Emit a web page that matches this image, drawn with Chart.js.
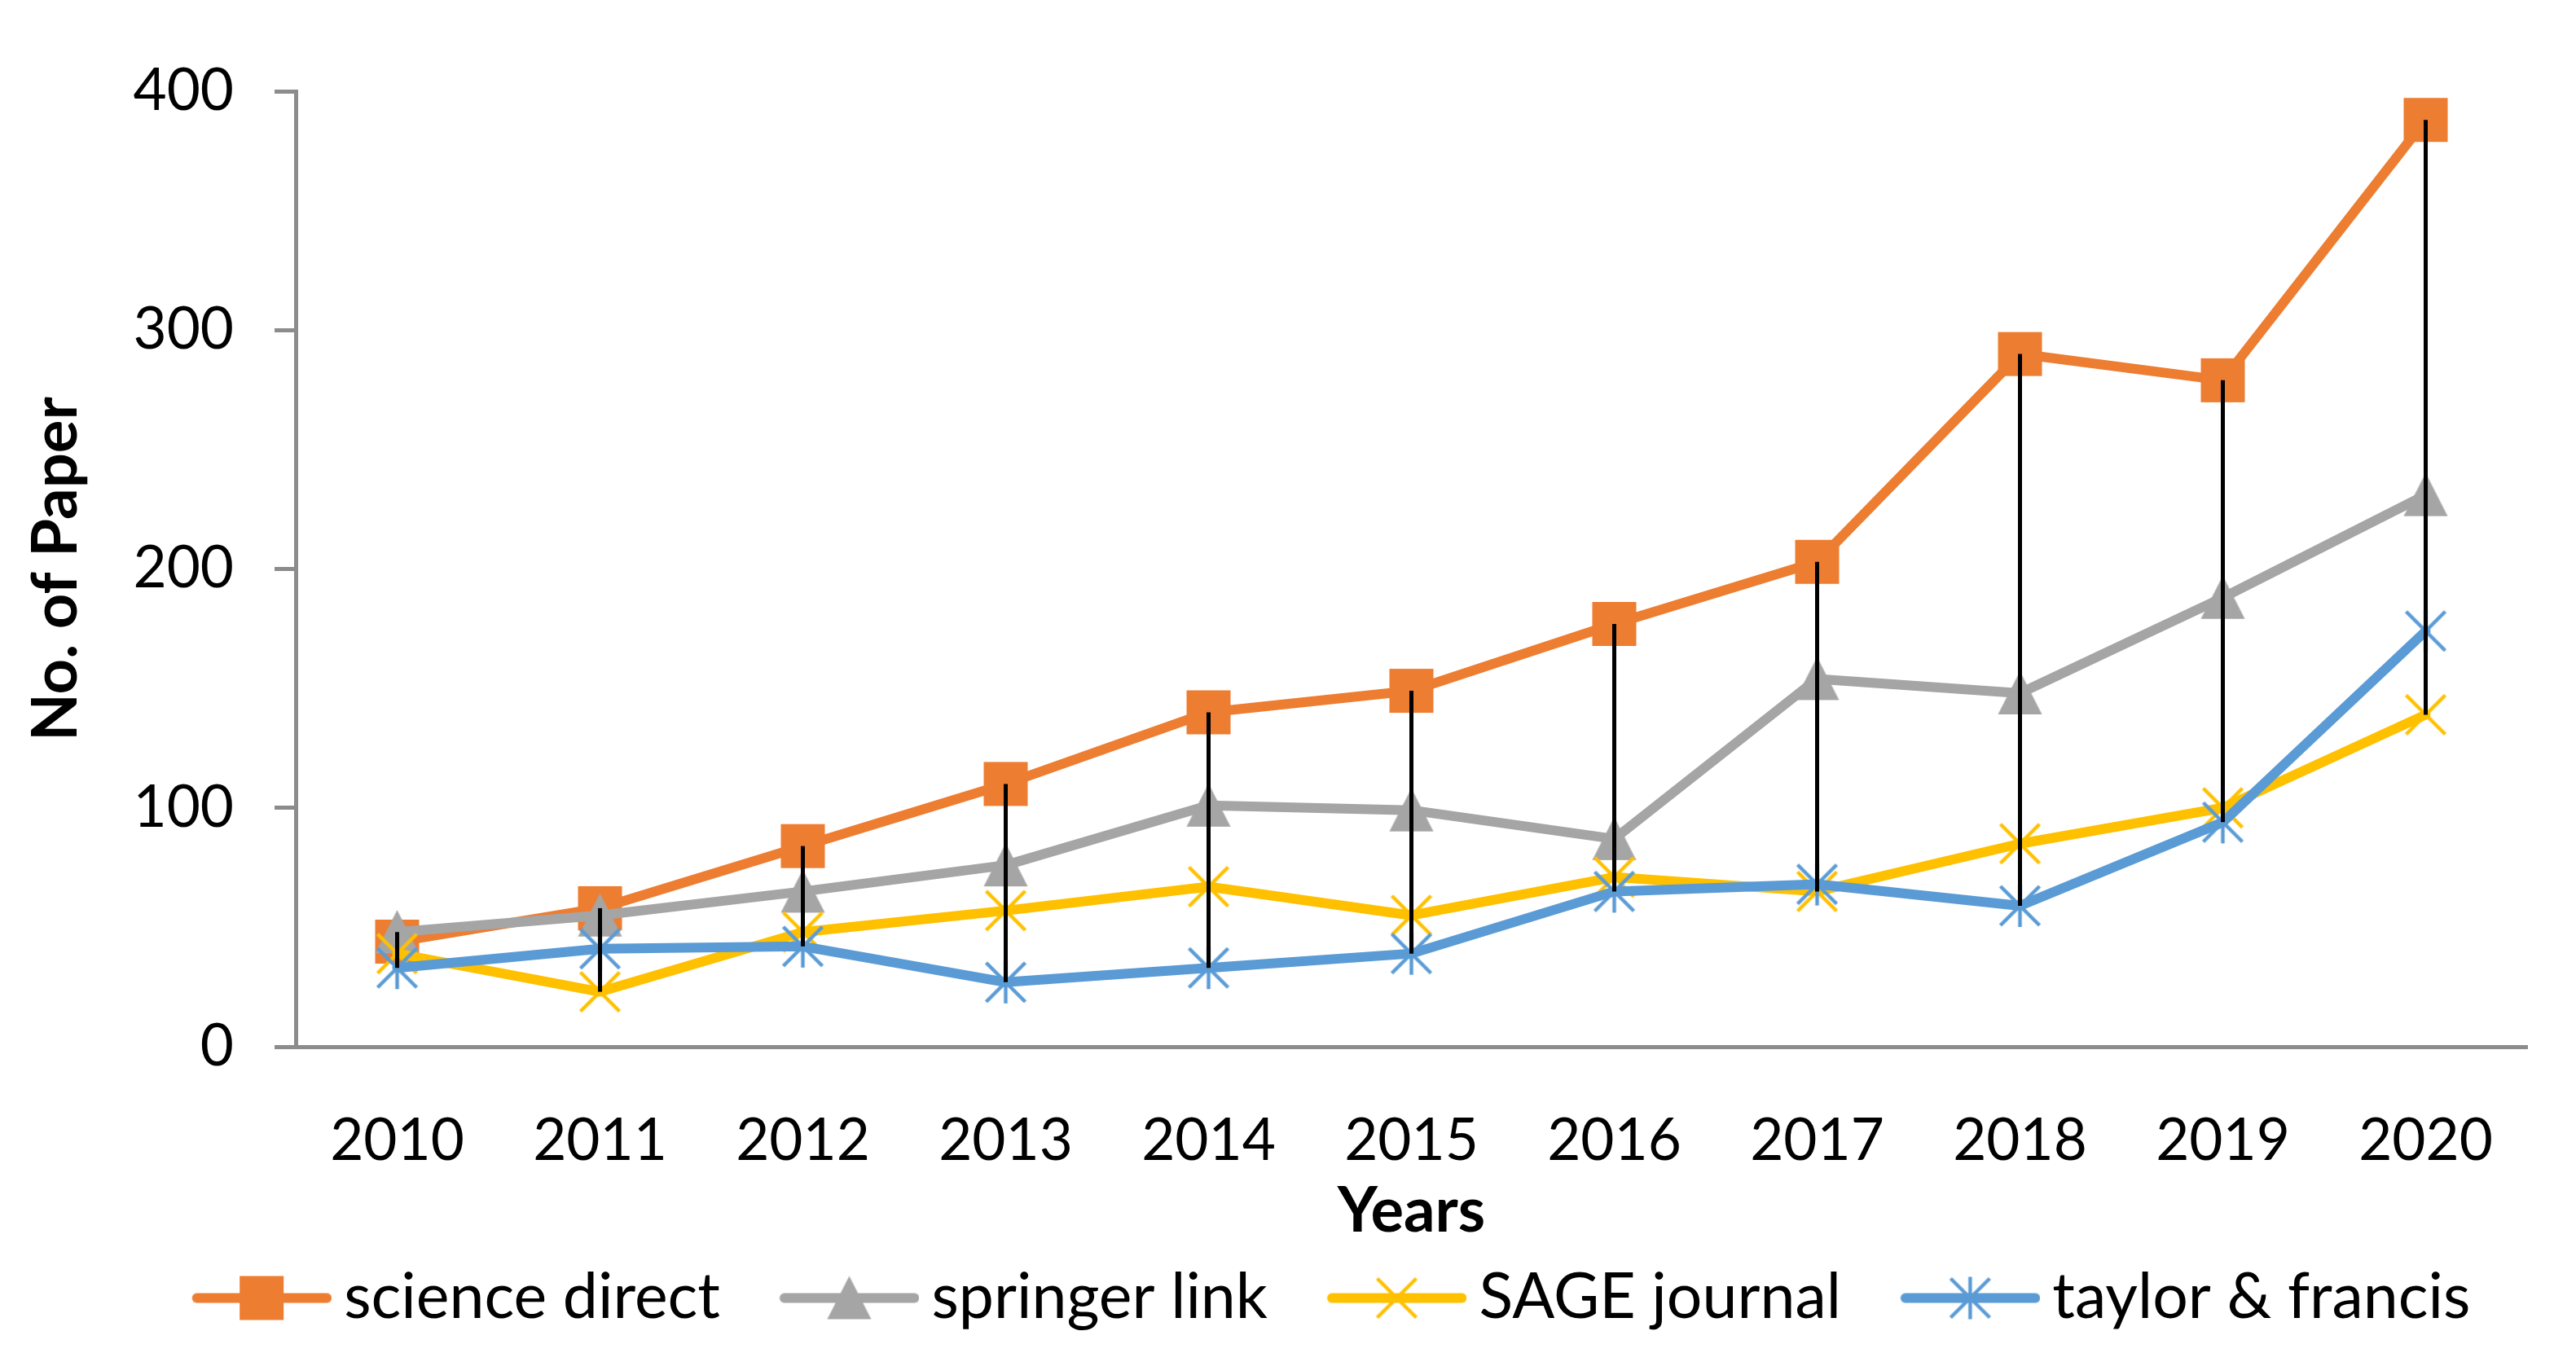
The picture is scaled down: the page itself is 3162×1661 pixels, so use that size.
<!DOCTYPE html>
<html>
<head>
<meta charset="utf-8">
<title>No. of Paper per year</title>
<script src="https://cdn.jsdelivr.net/npm/chart.js@4.4.1/dist/chart.umd.min.js"></script>
<style>
    html, body { margin: 0; padding: 0; background: #ffffff; }
    #box { width: 3162px; height: 1661px; }
</style>
</head>
<body>
<div id="box"><canvas id="graficoPapers"></canvas></div>
<script>
// Dados
const anos = ['2010', '2011', '2012', '2013', '2014', '2015', '2016', '2017', '2018', '2019', '2020'];
const scienceDirect = [44, 58, 84, 110, 140, 149, 177, 203, 290, 279, 388];
const springerLink = [48, 55, 65, 76, 101, 99, 87, 154, 148, 188, 231];
const sageJournal = [39, 23, 48, 57, 67, 55, 71, 65, 85, 100, 139];
const taylorFrancis = [33, 41, 42, 27, 33, 39, 65, 68, 59, 94, 174];
const yTicks = [0, 100, 200, 300, 400];

const nomes = ['science direct', 'springer link', 'SAGE journal', 'taylor & francis'];
const cores = ['#ED7D31', '#A5A5A5', '#FFC000', '#5B9BD5'];
const marcadores = ['square', 'triangle', 'x', 'asterisk'];
const series = [scienceDirect, springerLink, sageJournal, taylorFrancis];

const fonte = 'Lato';
const cinzaEixo = '#8C8C8C';

// Desenha um marcador estilo Excel
function desenharMarcador(g, tipo, cor, cx, cy) {
    g.fillStyle = cor;
    g.strokeStyle = cor;
    g.lineWidth = 4.5;
    g.lineCap = 'butt';
    if (tipo === 'square') {
        g.fillRect(cx - 27, cy - 27, 54, 54);
    } else if (tipo === 'triangle') {
        g.beginPath();
        g.moveTo(cx, cy - 27);
        g.lineTo(cx + 27, cy + 26);
        g.lineTo(cx - 27, cy + 26);
        g.closePath();
        g.fill();
    } else {
        g.beginPath();
        g.moveTo(cx - 24, cy - 24);
        g.lineTo(cx + 24, cy + 24);
        g.moveTo(cx + 24, cy - 24);
        g.lineTo(cx - 24, cy + 24);
        if (tipo === 'asterisk') {
            g.moveTo(cx, cy - 26);
            g.lineTo(cx, cy + 26);
        }
        g.stroke();
    }
}

function criarMarcador(tipo, cor) {
    const c = document.createElement('canvas');
    c.width = 60;
    c.height = 60;
    desenharMarcador(c.getContext('2d'), tipo, cor, 30, 30);
    return c;
}

// Amostra da legenda: linha + marcador (com margem transparente à esquerda)
function criarAmostraLegenda(tipo, cor) {
    const c = document.createElement('canvas');
    c.width = 258;
    c.height = 60;
    const g = c.getContext('2d');
    g.strokeStyle = cor;
    g.lineWidth = 12;
    g.lineCap = 'round';
    g.beginPath();
    g.moveTo(92.5, 30);
    g.lineTo(252, 30);
    g.stroke();
    desenharMarcador(g, tipo, cor, 172, 30);
    return c;
}

const amostras = nomes.map((n, i) => criarAmostraLegenda(marcadores[i], cores[i]));

// Linhas de máximo/mínimo (pretas) em cada ano
const linhasMaxMin = {
    id: 'linhasMaxMin',
    afterDatasetsDraw(chart) {
        const ctx = chart.ctx;
        const x = chart.scales.x;
        const y = chart.scales.y;
        ctx.save();
        ctx.strokeStyle = '#000000';
        ctx.lineWidth = 5;
        anos.forEach((ano, i) => {
            const valores = series.map(s => s[i]);
            const px = x.getPixelForValue(i);
            ctx.beginPath();
            ctx.moveTo(px, y.getPixelForValue(Math.max(...valores)));
            ctx.lineTo(px, y.getPixelForValue(Math.min(...valores)));
            ctx.stroke();
        });
        ctx.restore();
    }
};

const ctx = document.getElementById('graficoPapers').getContext('2d');

const grafico = new Chart(ctx, {
    type: 'line',
    data: {
        labels: anos,
        datasets: series.map((dados, i) => ({
            label: nomes[i],
            data: dados,
            borderColor: cores[i],
            backgroundColor: cores[i],
            borderWidth: 12,
            borderCapStyle: 'round',
            borderJoinStyle: 'round',
            tension: 0,
            pointStyle: criarMarcador(marcadores[i], cores[i]),
            pointRadius: 27,
            order: 4 - i
        }))
    },
    options: {
        responsive: true,
        maintainAspectRatio: false,
        devicePixelRatio: 1,
        animation: false,
        events: [],
        layout: {
            padding: { left: 103, right: 60, top: 112, bottom: 19 }
        },
        plugins: {
            tooltip: { enabled: false },
            legend: {
                position: 'bottom',
                labels: {
                    usePointStyle: true,
                    pointStyleWidth: 211,
                    padding: 10,
                    color: '#000000',
                    font: { family: fonte, size: 77 },
                    generateLabels: () => nomes.map((n, i) => ({
                        text: n,
                        pointStyle: amostras[i],
                        fillStyle: 'rgba(0,0,0,0)',
                        strokeStyle: 'rgba(0,0,0,0)',
                        lineWidth: 0,
                        fontColor: '#000000',
                        hidden: false,
                        datasetIndex: i
                    }))
                }
            }
        },
        scales: {
            x: {
                offset: true,
                grid: { display: false },
                border: { display: true, color: cinzaEixo, width: 5 },
                ticks: {
                    color: '#000000',
                    padding: 66,
                    font: { family: fonte, size: 71 }
                },
                title: {
                    display: true,
                    text: 'Years',
                    color: '#000000',
                    font: { family: fonte, size: 76, weight: 'bold' },
                    padding: { top: 0, bottom: 12 }
                },
                afterFit(scale) {
                    scale.height = 260;
                }
            },
            y: {
                min: 0,
                max: 400,
                afterBuildTicks(scale) {
                    scale.ticks = yTicks.map(v => ({ value: v }));
                },
                grid: {
                    display: true,
                    drawOnChartArea: false,
                    drawTicks: true,
                    tickLength: 26,
                    color: cinzaEixo,
                    lineWidth: 5
                },
                border: { display: true, color: cinzaEixo, width: 5 },
                ticks: {
                    color: '#000000',
                    padding: 50,
                    font: { family: fonte, size: 71 }
                },
                title: {
                    display: true,
                    text: 'No. of Paper',
                    color: '#000000',
                    font: { family: fonte, size: 76, weight: 'bold' },
                    padding: { top: -79, bottom: 0 }
                },
                afterFit(scale) {
                    scale.width = 260;
                }
            }
        }
    },
    plugins: [linhasMaxMin]
});
</script>
</body>
</html>
